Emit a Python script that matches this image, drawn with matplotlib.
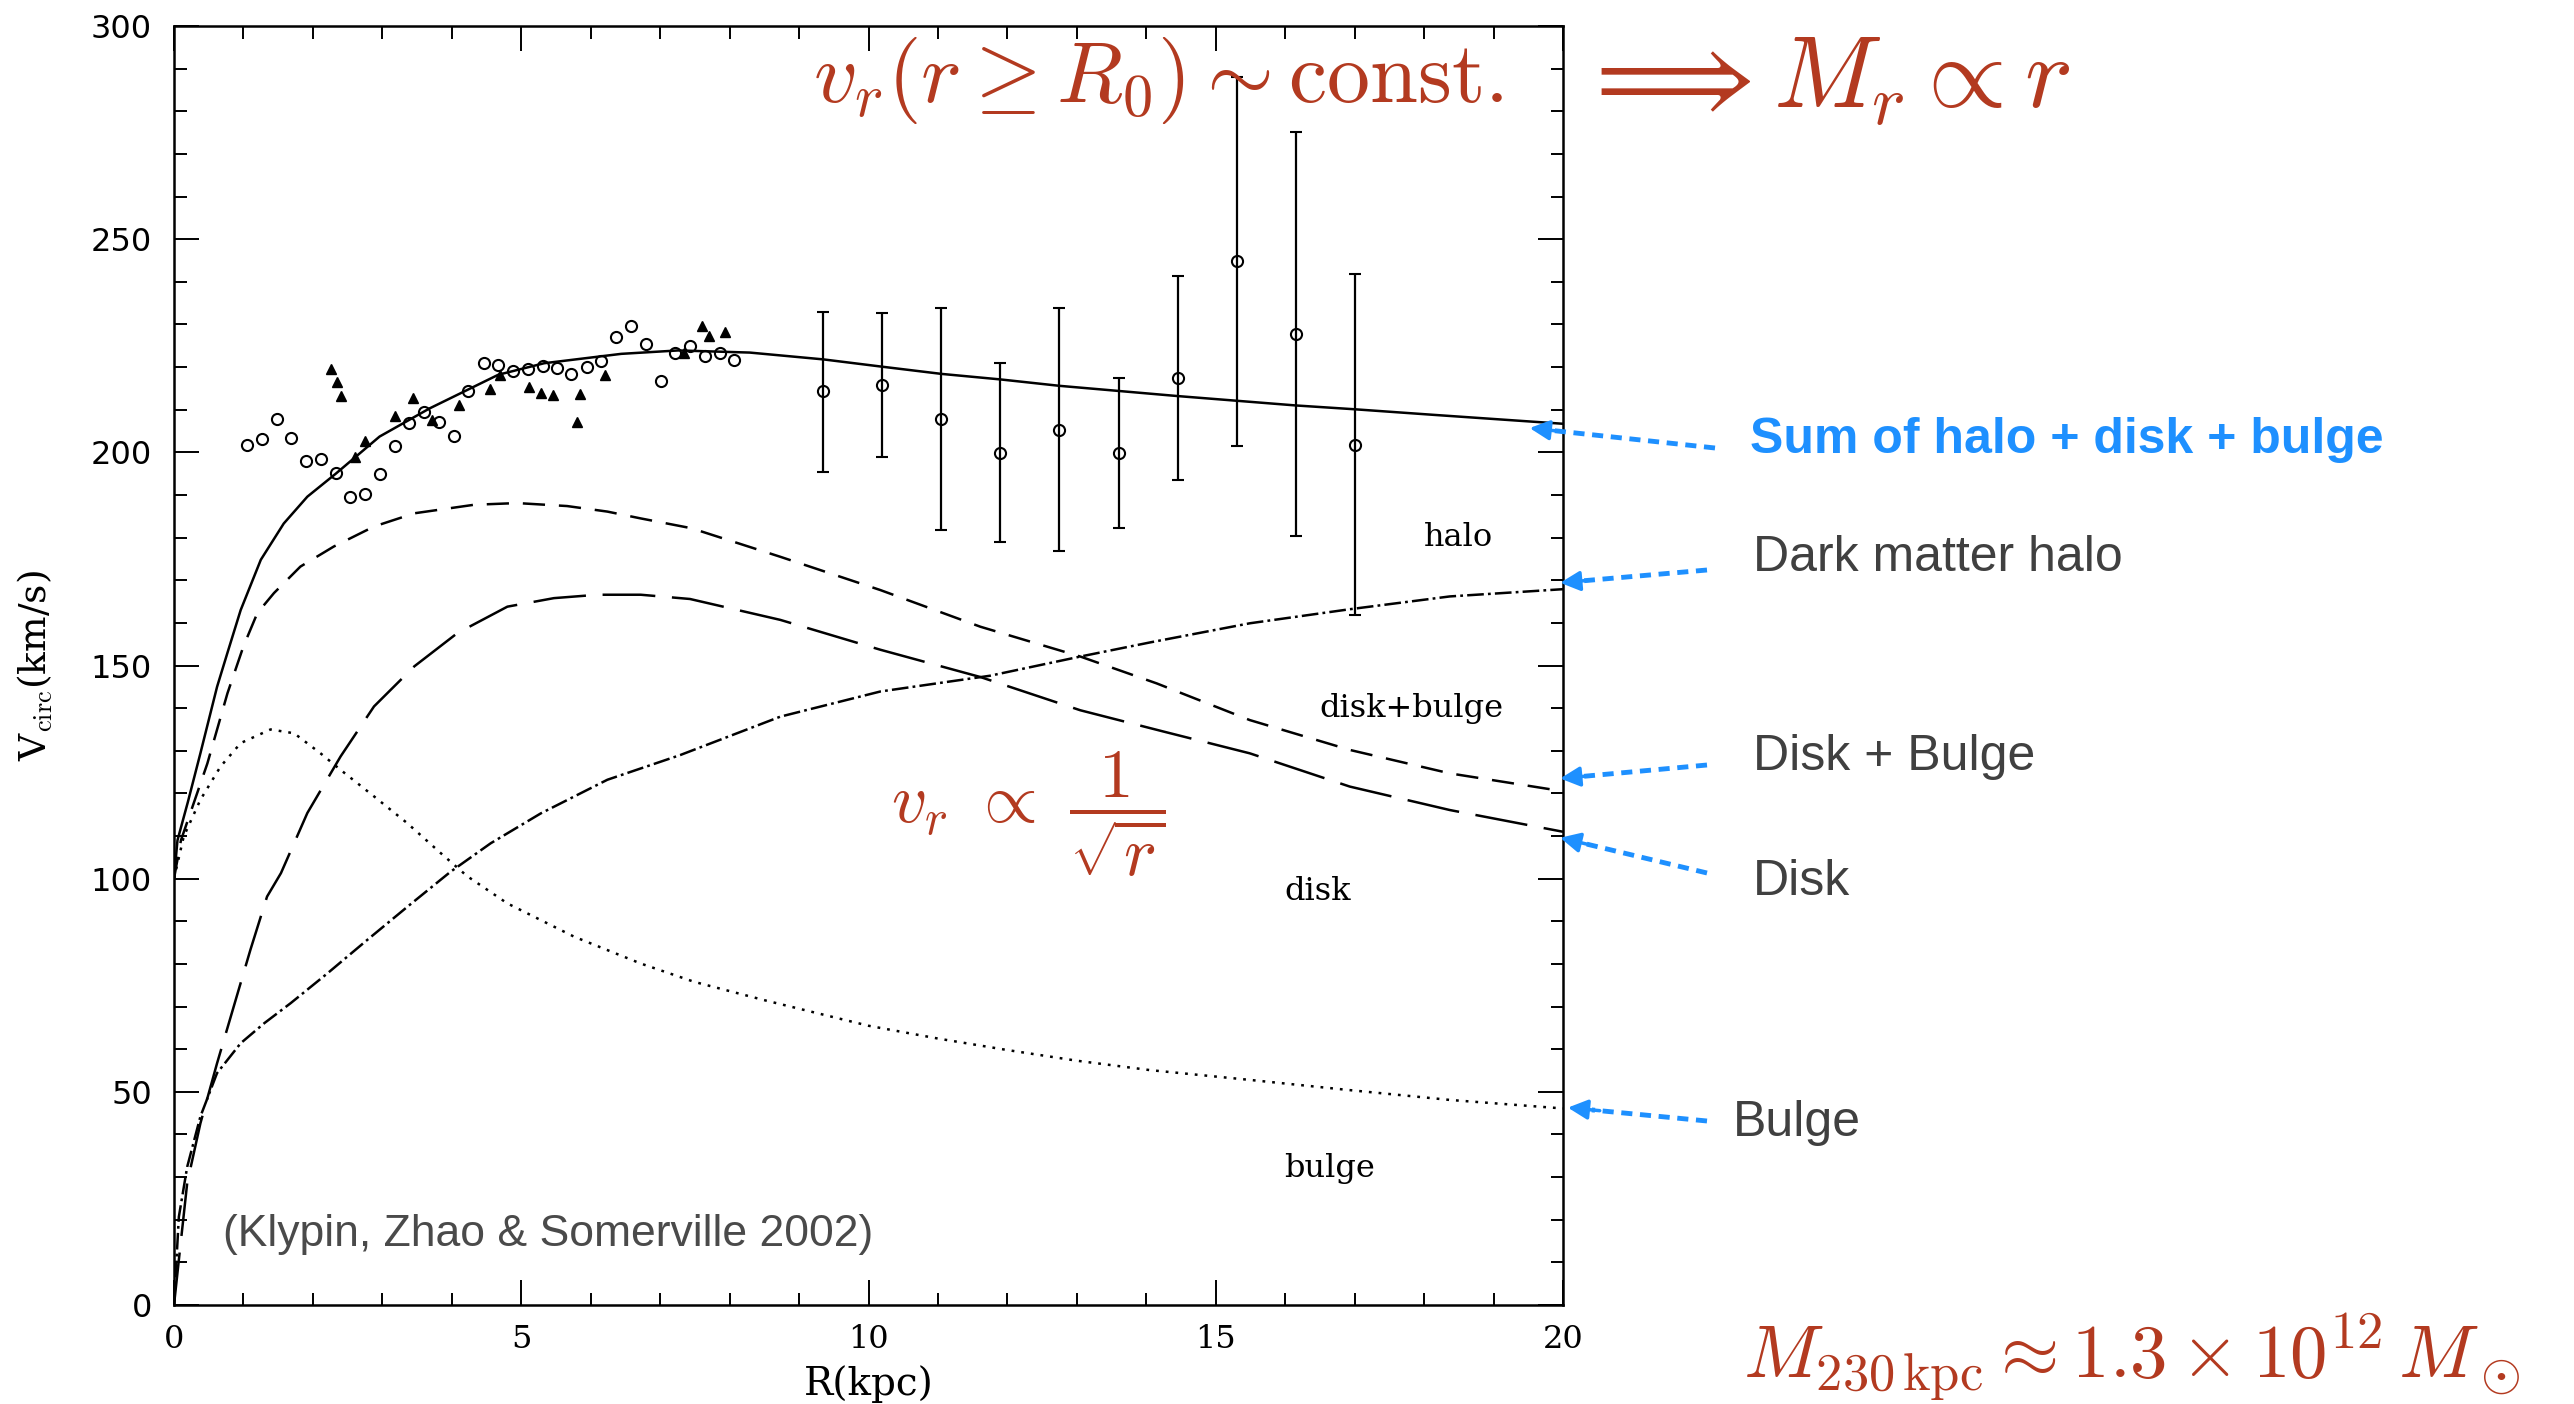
import numpy as np
import matplotlib
matplotlib.use('Agg')
import matplotlib.pyplot as plt
from matplotlib.lines import Line2D

plt.rcParams['mathtext.fontset'] = 'cm'
plt.rcParams['lines.scale_dashes'] = False

# model curves, R in kpc and V in km/s
r_total = [0, 0.05, 0.2, 0.38, 0.62, 0.77, 0.96, 1.25, 1.58, 1.92, 2.33, 2.96, 3.68, 4.67, 5.33,
           6.44, 7.26, 8.29, 9.35, 10.19, 11.05, 11.9, 12.75, 13.6, 14.45, 15.3, 16.15, 17.0, 18.13, 20.0]
v_total = [100, 109, 118, 129.4, 145, 153, 163, 174.8, 183.3, 189.6, 195, 203.7, 210.3, 218.2, 220.9,
           223.1, 223.9, 223.4, 221.8, 220.1, 218.4, 217.1, 215.6, 214.4, 213.2, 212.1, 211.0, 210.1, 208.8, 206.7]

r_diskbulge = [0, 0.1, 0.48, 0.77, 1.0, 1.2, 1.44, 1.82, 2.3, 2.88, 3.46, 4.32, 4.94, 5.66, 6.24, 6.72,
               7.45, 8.73, 10.17, 11.61, 13.05, 14.15, 15.49, 16.93, 18.37, 20.0]
v_diskbulge = [100, 109, 127, 143.5, 154.5, 162.3, 167, 173.2, 177.9, 182.6, 185.7, 187.7, 188.1, 187.4, 186.1, 184.5,
               182.2, 175.5, 167.7, 159.1, 152.1, 145.8, 137.2, 130.2, 124.7, 120.5]

r_disk = [0, 0.07, 0.19, 0.38, 0.62, 0.86, 1.1, 1.34, 1.54, 1.92, 2.4, 2.88, 3.46, 4.08, 4.8, 5.47, 6.1,
          6.72, 7.43, 8.73, 10.17, 11.61, 13.05, 14.25, 15.49, 16.93, 18.37, 20.0]
v_disk = [0, 10.6, 28.6, 42.6, 56.7, 70.0, 83.3, 95.8, 101.3, 115.4, 128.7, 140.4, 149.8, 157.6, 163.8, 165.8, 166.6,
          166.6, 165.6, 160.7, 153.7, 147.3, 139.5, 134.5, 129.4, 121.6, 116.1, 111.0]

r_bulge = [0, 0.14, 0.38, 0.67, 0.96, 1.39, 1.73, 2.11, 2.4, 2.88, 3.36, 3.84, 4.22, 4.8, 5.76, 6.72,
           7.49, 8.5, 10, 11, 12, 13, 14.05, 15.49, 16.93, 18.37, 20.0]
v_bulge = [100, 109.9, 118.5, 126.3, 131.8, 135.0, 134.1, 129.4, 125.5, 119.3, 113.0, 106.0, 100.6, 94.2, 86.4, 80.1,
           75.8, 71.5, 65.5, 62.5, 59.8, 57.3, 55.1, 52.8, 50.4, 48.1, 46.1]

r_halo = [0, 0.07, 0.19, 0.38, 0.62, 0.96, 1.3, 1.68, 2.21, 2.78, 3.36, 3.98, 4.56, 5.28, 6.24, 7.29,
          8.73, 10.17, 11.75, 13.05, 14.05, 15.49, 16.93, 18.37, 20.0]
v_halo = [0, 20.7, 32.4, 44.2, 54.4, 61.4, 66.1, 70.8, 77.8, 85.6, 93.4, 101.6, 108.3, 115.3, 123.2, 129.0,
          138.0, 143.9, 147.6, 152.1, 155.4, 159.9, 163.2, 166.2, 167.9]

# inner rotation curve data
circ_r = [1.05, 1.27, 1.48, 1.69, 1.90, 2.11, 2.33, 2.54, 2.75, 2.97, 3.18, 3.39, 3.60, 3.81, 4.03, 4.24, 4.46,
          4.67, 4.88, 5.10, 5.31, 5.51, 5.72, 5.94, 6.15, 6.37, 6.58, 6.79, 7.01, 7.22, 7.43, 7.64, 7.86, 8.07]
circ_v = [201.7, 203.1, 207.8, 203.4, 197.9, 198.5, 195.2, 189.6, 190.3, 194.9, 201.4, 206.9, 209.5, 207.0, 203.8,
          214.3, 220.9, 220.4, 219.0, 219.6, 220.2, 219.7, 218.3, 219.9, 221.5, 227.1, 229.7, 225.3, 216.8, 223.3,
          225.0, 222.5, 223.3, 221.7]

tri_r = [2.26, 2.34, 2.41, 2.61, 2.75, 3.18, 3.44, 3.71, 4.11, 4.55, 4.69, 5.11, 5.28, 5.46, 5.80, 5.84,
         6.21, 7.35, 7.60, 7.70, 7.93]
tri_v = [219.6, 216.4, 213.3, 199.0, 202.6, 208.5, 212.8, 207.6, 211.1, 214.9, 218.2, 215.3, 213.9, 213.5,
         207.1, 213.6, 218.1, 223.2, 229.6, 227.2, 228.2]

# outer points with error bars
eb_r = [9.35, 10.19, 11.05, 11.90, 12.75, 13.60, 14.45, 15.30, 16.15, 17.00]
eb_v = [214.3, 215.7, 207.8, 199.9, 205.3, 199.9, 217.4, 244.9, 227.8, 201.7]
eb_hi = [233.0, 232.6, 233.8, 221.0, 233.8, 217.4, 241.4, 288.0, 275.2, 241.8]
eb_lo = [195.5, 198.9, 181.8, 178.9, 176.9, 182.3, 193.5, 201.4, 180.3, 161.9]

W, H = 2574, 1404
fig = plt.figure(figsize=(W / 100, H / 100), dpi=100)
ax = fig.add_axes([174 / W, 1 - 1305 / H, (1563 - 174) / W, (1305 - 26) / H])

lw = 1.8
ax.plot(r_total, v_total, color='k', lw=lw)
ax.plot(r_diskbulge, v_diskbulge, color='k', lw=lw, linestyle=(0, (16, 10)))
ax.plot(r_disk, v_disk, color='k', lw=lw, linestyle=(0, (38, 12)))
ax.plot(r_bulge, v_bulge, color='k', lw=lw, linestyle=(0, (2, 5)))
ax.plot(r_halo, v_halo, color='k', lw=lw, linestyle=(0, (12, 3, 2, 3)))

ax.plot(circ_r, circ_v, 'o', ms=8, mfc='none', mec='k', mew=1.5)
ax.plot(tri_r, tri_v, '^', ms=7, color='k')

eb_v = np.array(eb_v)
yerr = [eb_v - np.array(eb_lo), np.array(eb_hi) - eb_v]
ax.errorbar(eb_r, eb_v, yerr=yerr, fmt='o', ms=8, mfc='none', mec='k', mew=1.5,
            ecolor='k', elinewidth=1.6, capsize=4.5, capthick=1.6)

ax.set_xlim(0, 20)
ax.set_ylim(0, 300)
ax.set_xticks([0, 5, 10, 15, 20])
ax.set_xticks(np.arange(0, 21, 1), minor=True)
ax.set_yticks(np.arange(0, 301, 50))
ax.set_yticks(np.arange(0, 301, 10), minor=True)
ax.tick_params(which='both', direction='in', top=True, right=True, width=1.4, color='k')
ax.tick_params(which='major', length=18)
ax.tick_params(which='minor', length=9)
ax.tick_params(axis='y', which='major', pad=16, labelsize=23, labelfontfamily='DejaVu Sans')
ax.tick_params(axis='x', which='major', pad=14, labelsize=23, labelfontfamily='DejaVu Serif')
for s in ax.spines.values():
    s.set_linewidth(1.8)

ax.set_xlabel('R(kpc)', family='DejaVu Serif', fontsize=28)
ax.xaxis.set_label_coords(0.5, -0.047)
ax.set_ylabel(r'V$_{\rm circ}$(km/s)', family='DejaVu Serif', fontsize=27)
ax.yaxis.set_label_coords(-0.086, 0.5)

# component labels inside the frame
lab_kw = dict(family='DejaVu Serif', fontsize=23, ha='center', va='center')
ax.text(18.5, 180, 'halo', **lab_kw)
ax.text(17.82, 140, 'disk+bulge', **lab_kw)
ax.text(16.47, 97, 'disk', **lab_kw)
ax.text(16.64, 32, 'bulge', **lab_kw)
ax.text(0.7, 16.5, '(Klypin, Zhao & Somerville 2002)', family='Liberation Sans', fontsize=32,
        color='#4a4a4a', ha='left', va='center')

red = '#b33a20'
fig.text(813 / W, 1 - 80 / H, r'$v_r(r \geq R_0) \sim \mathrm{const.}$', color=red, fontsize=62,
         ha='left', va='center')
fig.text(1578 / W, 1 - 80 / H, r'$\Longrightarrow M_r \propto r$', color=red, fontsize=73,
         ha='left', va='center')
ax.text(12.3, 115, r'$v_r\ \propto\ \dfrac{1}{\sqrt{r}}$', color=red, fontsize=50, ha='center', va='center')
fig.text(1743 / W, 1 - 1377 / H, r'$M_{230\,\mathrm{kpc}} \approx 1.3\times10^{12}\,M_\odot$', color=red,
         fontsize=54, ha='left', va='baseline')

# labels on the right with dashed pointers to the curve ends
blue = '#1e90ff'
gray = '#404040'
labels = [('Sum of halo + disk + bulge', 1750, 440, blue, 'bold', (19.52, 205.7), (1715, 448)),
          ('Dark matter halo', 1753, 558, gray, 'normal', (19.96, 169.4), (1707, 570)),
          ('Disk + Bulge', 1753, 757, gray, 'normal', (19.96, 123.5), (1707, 765)),
          ('Disk', 1753, 882, gray, 'normal', (19.96, 109.6), (1707, 873)),
          ('Bulge', 1733, 1123, gray, 'normal', (20.07, 46.3), (1707, 1121))]
for txt, tx, ty, col, wt, tip, start in labels:
    fig.text(tx / W, 1 - ty / H, txt, color=col, fontsize=36, fontweight=wt,
             family='Liberation Sans', ha='left', va='center')
    tx_px, ty_px = ax.transData.transform(tip)
    sx, sy = start[0], H - start[1]
    d = np.hypot(tx_px - sx, ty_px - sy)
    ux, uy = (tx_px - sx) / d, (ty_px - sy) / d
    bx, by = tx_px - 24 * ux, ty_px - 24 * uy
    fig.add_artist(Line2D([sx / W, bx / W], [sy / H, by / H], transform=fig.transFigure,
                          color=blue, lw=3.5, linestyle=(0, (8, 5.5))))
    ax.annotate('', xy=tip, xycoords='data', xytext=(tx_px - 32 * ux, ty_px - 32 * uy),
                textcoords='figure pixels',
                arrowprops=dict(arrowstyle='-|>,head_length=1.2,head_width=0.6', color=blue, lw=2.5,
                                shrinkA=0, shrinkB=0),
                annotation_clip=False)

plt.savefig('out.png', dpi=100, facecolor='white')
